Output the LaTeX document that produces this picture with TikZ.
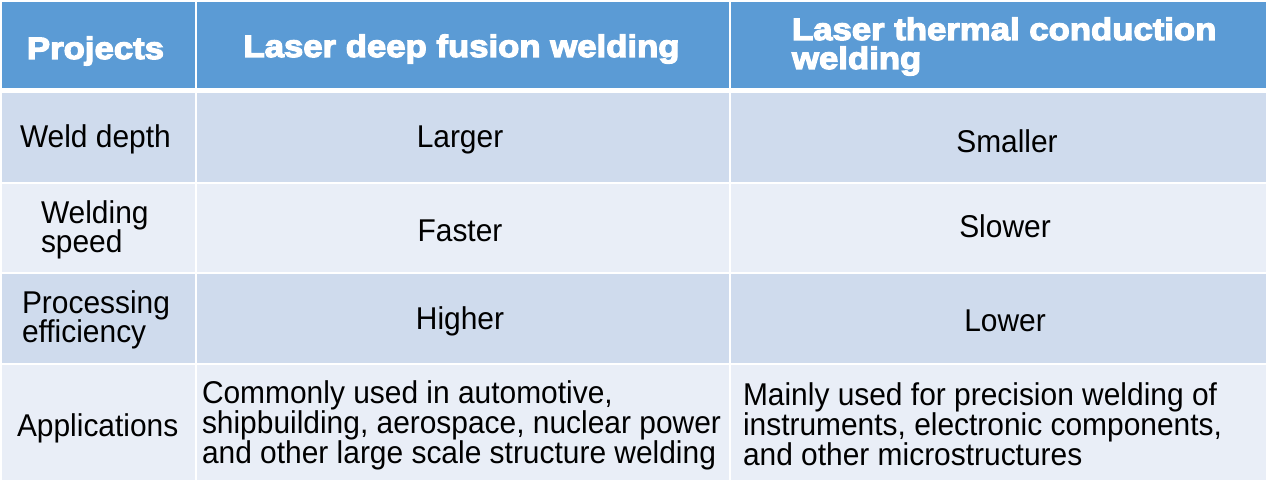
\documentclass[tikz,border=0pt]{standalone}
\usepackage{fontspec}
\setmainfont{Liberation Sans}
\newfontfamily\hfont[FakeStretch=1.12,FakeBold=4]{Liberation Sans Bold}
\newfontfamily\bfont[FakeStretch=0.95]{Liberation Sans}
\definecolor{hdr}{HTML}{5B9BD5}
\definecolor{rowA}{HTML}{CFDBED}
\definecolor{rowB}{HTML}{E9EEF7}
\tikzset{
  htxt/.style={inner sep=0pt, outer sep=0pt, text=white, font={\hfont\fontsize{31}{25}\selectfont}},
  btxt/.style={inner sep=0pt, outer sep=0pt, text=black, font={\bfont\fontsize{31.5}{25}\selectfont}},
}
\begin{document}
\begin{tikzpicture}[x=1pt,y=-1pt]
\useasboundingbox (0,0) rectangle (1269,484);
\fill[white] (0,0) rectangle (1269,484);
% header
\fill[hdr] (2,2) rectangle (195,88);
\fill[hdr] (197,2) rectangle (729,88);
\fill[hdr] (731,2) rectangle (1266,88);
% row 1
\fill[rowA] (2,93) rectangle (195,182);
\fill[rowA] (197,93) rectangle (729,182);
\fill[rowA] (731,93) rectangle (1266,182);
% row 2
\fill[rowB] (2,184) rectangle (195,272);
\fill[rowB] (197,184) rectangle (729,272);
\fill[rowB] (731,184) rectangle (1266,272);
% row 3
\fill[rowA] (2,274) rectangle (195,363);
\fill[rowA] (197,274) rectangle (729,363);
\fill[rowA] (731,274) rectangle (1266,363);
% row 4
\fill[rowB] (2,365) rectangle (195,480);
\fill[rowB] (197,365) rectangle (729,480);
\fill[rowB] (731,365) rectangle (1266,480);
% header text
\node[htxt, anchor=base] (hproj) at (95.5,59) {Projects};
\node[htxt, anchor=base] (hdeep) at (461.5,57) {Laser deep fusion welding};
\node[htxt, anchor=base west] (hcond1) at (792,40) {Laser thermal conduction};
\node[htxt, anchor=base west] (hcond2) at (792,69) {welding};
% row 1
\node[btxt, anchor=base west] (r1a) at (20,148) {Weld depth};
\node[btxt, anchor=base] (r1b) at (460,148) {Larger};
\node[btxt, anchor=base] (r1c) at (1007,153) {Smaller};
% row 2
\node[btxt, anchor=base west] (r2a1) at (41,223) {Welding};
\node[btxt, anchor=base west] (r2a2) at (41,252) {speed};
\node[btxt, anchor=base] (r2b) at (460,241) {Faster};
\node[btxt, anchor=base] (r2c) at (1005,237) {Slower};
% row 3
\node[btxt, anchor=base west] (r3a1) at (22,313) {Processing};
\node[btxt, anchor=base west] (r3a2) at (22,342) {efficiency};
\node[btxt, anchor=base] (r3b) at (460,329) {Higher};
\node[btxt, anchor=base] (r3c) at (1005,331) {Lower};
% row 4
\node[btxt, anchor=base west] (r4a) at (17,436) {Applications};
\node[btxt, anchor=base west] (r4b1) at (202,403) {Commonly used in automotive,};
\node[btxt, anchor=base west] (r4b2) at (202,433) {shipbuilding, aerospace, nuclear power};
\node[btxt, anchor=base west] (r4b3) at (202,463) {and other large scale structure welding};
\node[btxt, anchor=base west] (r4c1) at (743,405) {Mainly used for precision welding of};
\node[btxt, anchor=base west] (r4c2) at (743,435) {instruments, electronic components,};
\node[btxt, anchor=base west] (r4c3) at (743,465) {and other microstructures};
\end{tikzpicture}
\end{document}
